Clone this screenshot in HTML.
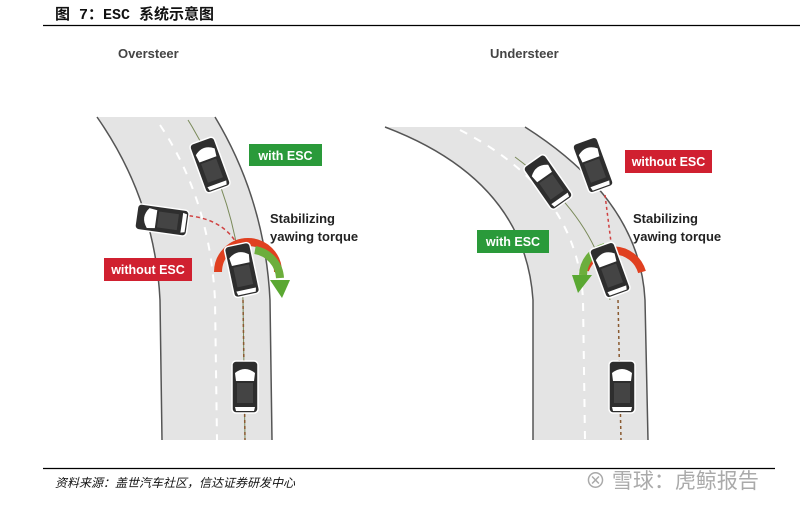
<!DOCTYPE html>
<html><head><meta charset="utf-8"><style>
body{margin:0;width:800px;height:502px;background:#fff;overflow:hidden;font-family:"Liberation Sans","Noto Sans CJK SC",sans-serif}
</style></head><body>
<svg width="800" height="502" viewBox="0 0 800 502" xmlns="http://www.w3.org/2000/svg">
<defs>
<g id="car">
<rect x="-13" y="-26" width="26" height="52" rx="4" fill="#2e2e2e" stroke="#fff" stroke-width="1.5"/>
<path d="M-10,-14 Q0,-22 10,-14 L9,-6 L-9,-6 Z" fill="#fff"/>
<rect x="-8" y="-4" width="16" height="20" fill="#444"/>
<path d="M-10,20 L10,20 L9,24 L-9,24 Z" fill="#fff"/>
</g>
</defs>
<text x="55" y="19" font-size="15" font-weight="bold" font-family="'Liberation Mono','Noto Sans CJK SC',monospace" fill="#111">图 7：ESC 系统示意图</text>
<line x1="43" y1="25.5" x2="800" y2="25.5" stroke="#000" stroke-width="1.2"/>
<text x="118" y="58" font-size="13" font-weight="bold" fill="#444">Oversteer</text>
<text x="490" y="58" font-size="13" font-weight="bold" fill="#444">Understeer</text>
<!-- left road -->
<path d="M97,117 L215,117 Q265,200 270,300 L272,440 L162,440 L160,300 Q155,200 97,117 Z" fill="#e4e4e4"/>
<path d="M97,117 Q155,200 160,300 L162,440" fill="none" stroke="#555" stroke-width="1.5"/>
<path d="M215,117 Q265,200 270,300 L272,440" fill="none" stroke="#555" stroke-width="1.5"/>
<path d="M160,125 Q210,200 215,300 L217,440" fill="none" stroke="#fff" stroke-width="2" stroke-dasharray="8,8"/>
<path d="M188,120 Q238,200 243,300 L245,440" fill="none" stroke="#7a8a5a" stroke-width="1"/>
<path d="M243,300 L245,440" fill="none" stroke="#8a5a30" stroke-width="1.5" stroke-dasharray="3,3"/>
<path d="M175,215 Q225,215 240,250" fill="none" stroke="#d04040" stroke-width="1.5" stroke-dasharray="4,3"/>
<!-- right road -->
<path d="M385,127 L525,127 Q640,200 645,300 L648,440 L533,440 L533,300 Q525,180 385,127 Z" fill="#e4e4e4"/>
<path d="M385,127 Q525,180 533,300 L533,440" fill="none" stroke="#555" stroke-width="1.5"/>
<path d="M525,127 Q640,200 645,300 L648,440" fill="none" stroke="#555" stroke-width="1.5"/>
<path d="M460,130 Q578,190 583,300 L585,440" fill="none" stroke="#fff" stroke-width="2" stroke-dasharray="8,8"/>
<path d="M515,157 Q600,220 610,300" fill="none" stroke="#7a8a5a" stroke-width="1"/>
<path d="M605,195 L612,250" fill="none" stroke="#d04040" stroke-width="1.5" stroke-dasharray="3,3"/>
<path d="M618,300 L621,440" fill="none" stroke="#8a5a30" stroke-width="1.5" stroke-dasharray="3,3"/>
<!-- arrows left -->
<path d="M218,272 A30,30 0 0 1 278,272" fill="none" stroke="#e04020" stroke-width="8"/>
<path d="M255,250 A30,30 0 0 1 280,278" fill="none" stroke="#6cae3c" stroke-width="8"/>
<polygon points="270,280 290,280 282,298" fill="#5aa832"/>
<!-- arrows right -->
<path d="M585,270 A30,30 0 0 1 642,272" fill="none" stroke="#e04020" stroke-width="8"/>
<path d="M583,275 A30,30 0 0 1 605,247" fill="none" stroke="#6cae3c" stroke-width="8"/>
<polygon points="572,275 592,275 578,293" fill="#5aa832"/>
<!-- cars -->
<use href="#car" transform="translate(210,165) rotate(-20)"/>
<use href="#car" transform="translate(162,220) rotate(-82)"/>
<use href="#car" transform="translate(242,270) rotate(-12)"/>
<use href="#car" transform="translate(245,387)"/>
<use href="#car" transform="translate(548,182) rotate(-35)"/>
<use href="#car" transform="translate(593,165) rotate(-20)"/>
<use href="#car" transform="translate(610,270) rotate(-20)"/>
<use href="#car" transform="translate(622,387)"/>
<!-- labels -->
<rect x="249" y="144" width="73" height="22" fill="#2a9a3a"/>
<text x="285.5" y="160" font-size="12.5" font-weight="bold" fill="#fff" text-anchor="middle">with ESC</text>
<rect x="104" y="258" width="88" height="23" fill="#d02030"/>
<text x="148" y="274" font-size="12.5" font-weight="bold" fill="#fff" text-anchor="middle">without ESC</text>
<rect x="625" y="150" width="87" height="23" fill="#d02030"/>
<text x="668.5" y="166" font-size="12.5" font-weight="bold" fill="#fff" text-anchor="middle">without ESC</text>
<rect x="477" y="230" width="72" height="23" fill="#2a9a3a"/>
<text x="513" y="246" font-size="12.5" font-weight="bold" fill="#fff" text-anchor="middle">with ESC</text>
<text x="270" y="223" font-size="13" font-weight="bold" fill="#222">Stabilizing</text>
<text x="270" y="241" font-size="13" font-weight="bold" fill="#222">yawing torque</text>
<text x="633" y="223" font-size="13" font-weight="bold" fill="#222">Stabilizing</text>
<text x="633" y="241" font-size="13" font-weight="bold" fill="#222">yawing torque</text>
<line x1="43" y1="468.5" x2="775" y2="468.5" stroke="#000" stroke-width="1.2"/>
<text x="55" y="487" font-size="12" font-style="italic" fill="#111">资料来源：盖世汽车社区，信达证券研发中心</text>
<text x="585" y="488" font-size="21" fill="#aaa">⊗ 雪球：虎鲸报告</text>
</svg>
</body></html>
